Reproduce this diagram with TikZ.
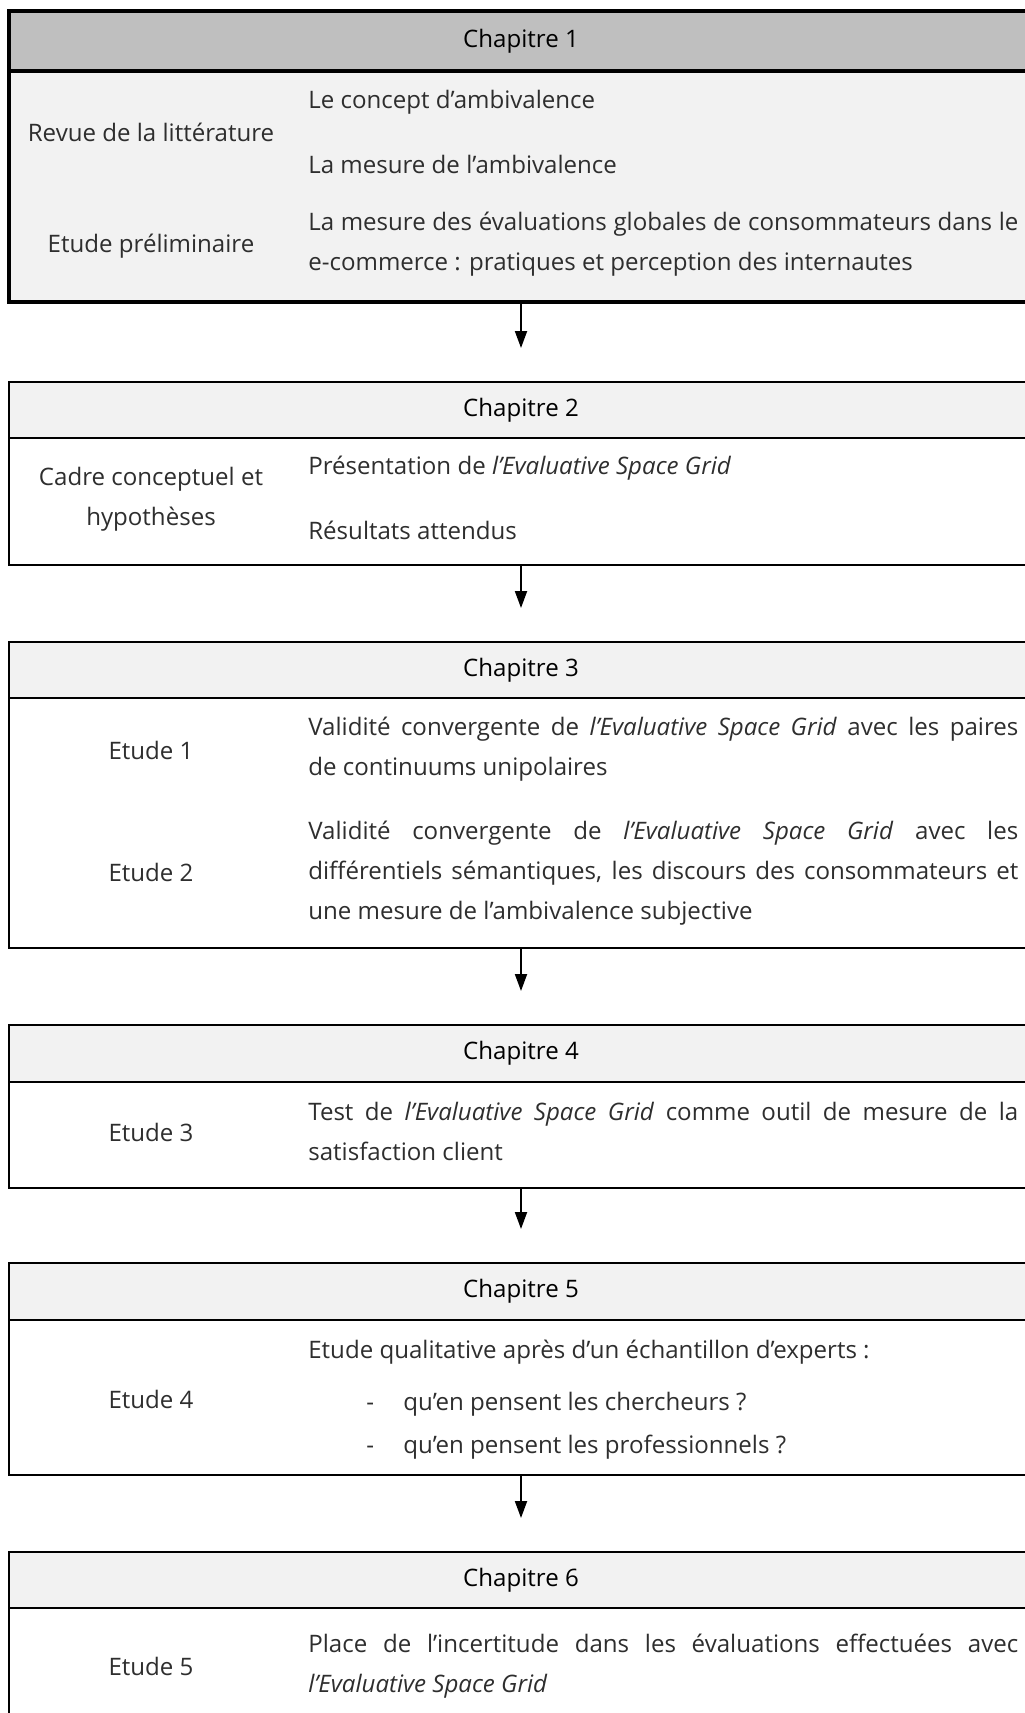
\documentclass[tikz,border=0pt]{standalone}
\usepackage{fontspec}
\setmainfont{Open Sans}
\usetikzlibrary{arrows.meta}
\usetikzlibrary{positioning}

\definecolor{headgray}{HTML}{BFBFBF}
\definecolor{palegray}{HTML}{F2F2F2}
\definecolor{txtgray}{HTML}{2E2E2E}

\newcommand{\txtfont}{\fontsize{13.7}{22.76}\selectfont}
\newcommand{\esg}{\textit{l’Evaluative Space Grid}}

\tikzset{
  box/.style={draw, rectangle, anchor=north west, outer sep=0pt, inner sep=0pt,
    minimum width=20.48cm, line width=1.2pt},
  chapbox/.style={box, fill=palegray, font=\txtfont},
  bodybox/.style={box},
  lefttxt/.style={align=center, text=txtgray, inner sep=0pt, font=\txtfont},
  righttxt/.style={anchor=west, text=txtgray, inner sep=0pt, font=\txtfont},
  para/.style={righttxt, text width=14.2cm, align=justify},
  flow/.style={-{Triangle[length=0.34cm,width=0.24cm]}, line width=1.1pt, shorten >=0.68cm}
}

\begin{document}
\begin{tikzpicture}

\useasboundingbox (0,0) rectangle (20.5,-34.26);
\clip (0,0) rectangle (20.5,-34.26);

% chapitre 1
\node[chapbox, fill=headgray, line width=2pt, minimum height=1.2cm] (h1) at (0.18,-0.22) {Chapitre 1};
\node[bodybox, fill=palegray, line width=2pt, minimum height=4.62cm] (b1) at (h1.south west) {};
\node[lefttxt] (l11) at (3.02,-2.64) {Revue de la littérature};
\node[lefttxt] (l12) at (3.02,-4.92) {Etude préliminaire};
\node[righttxt] (r11) at (6.16,-2.04) {Le concept d’ambivalence};
\node[righttxt] (r12) at (6.16,-3.28) {La mesure de l’ambivalence};
\node[para] (r13) at (6.16,-4.88) {La mesure des évaluations globales de consommateurs dans le\linebreak e-commerce : pratiques et perception des internautes};

% chapitre 2
\node[chapbox, minimum height=1.12cm] (h2) at (0.18,-7.64) {Chapitre 2};
\node[bodybox, minimum height=2.54cm] (b2) at (h2.south west) {};
\node[lefttxt] (l21) at (3.02,-9.98) {Cadre conceptuel et\\hypothèses};
\node[righttxt] (r21) at (6.16,-9.36) {Présentation de \esg};
\node[righttxt] (r22) at (6.16,-10.60) {Résultats attendus};

% chapitre 3
\node[chapbox, minimum height=1.12cm] (h3) at (0.18,-12.84) {Chapitre 3};
\node[bodybox, minimum height=5.0cm] (b3) at (h3.south west) {};
\node[lefttxt] (l31) at (3.02,-15.00) {Etude 1};
\node[lefttxt] (l32) at (3.02,-17.44) {Etude 2};
\node[para] (r31) at (6.16,-14.98) {Validité convergente de \esg{} avec les paires\linebreak de continuums unipolaires};
\node[para] (r32) at (6.16,-17.46) {Validité convergente de \esg{} avec les\linebreak différentiels sémantiques, les discours des consommateurs et\linebreak une mesure de l’ambivalence subjective};

% chapitre 4
\node[chapbox, minimum height=1.14cm] (h4) at (0.18,-20.50) {Chapitre 4};
\node[bodybox, minimum height=2.12cm] (b4) at (h4.south west) {};
\node[lefttxt] (l41) at (3.02,-22.64) {Etude 3};
\node[para] (r41) at (6.16,-22.63) {Test de \esg{} comme outil de mesure de la\linebreak satisfaction client};

% chapitre 5
\node[chapbox, minimum height=1.14cm] (h5) at (0.18,-25.26) {Chapitre 5};
\node[bodybox, minimum height=3.10cm] (b5) at (h5.south west) {};
\node[lefttxt] (l51) at (3.02,-27.98) {Etude 4};
\node[righttxt] (r51) at (6.16,-27.04) {Etude qualitative après d’un échantillon d’experts :};
\node[righttxt] (r52) at (7.32,-28.08) {\makebox[0.74cm][l]{-}qu’en pensent les chercheurs ?};
\node[righttxt] (r53) at (7.32,-28.94) {\makebox[0.74cm][l]{-}qu’en pensent les professionnels ?};

% chapitre 6
\node[chapbox, minimum height=1.12cm] (h6) at (0.18,-31.04) {Chapitre 6};
\node[bodybox, minimum height=4cm] (b6) at (h6.south west) {};
\node[lefttxt] (l61) at (3.02,-33.32) {Etude 5};
\node[para] (r61) at (6.16,-33.32) {Place de l’incertitude dans les évaluations effectuées avec\linebreak \esg};

\draw[flow] (b1) -- (h2);
\draw[flow] (b2) -- (h3);
\draw[flow] (b3) -- (h4);
\draw[flow] (b4) -- (h5);
\draw[flow] (b5) -- (h6);

\end{tikzpicture}
\end{document}
